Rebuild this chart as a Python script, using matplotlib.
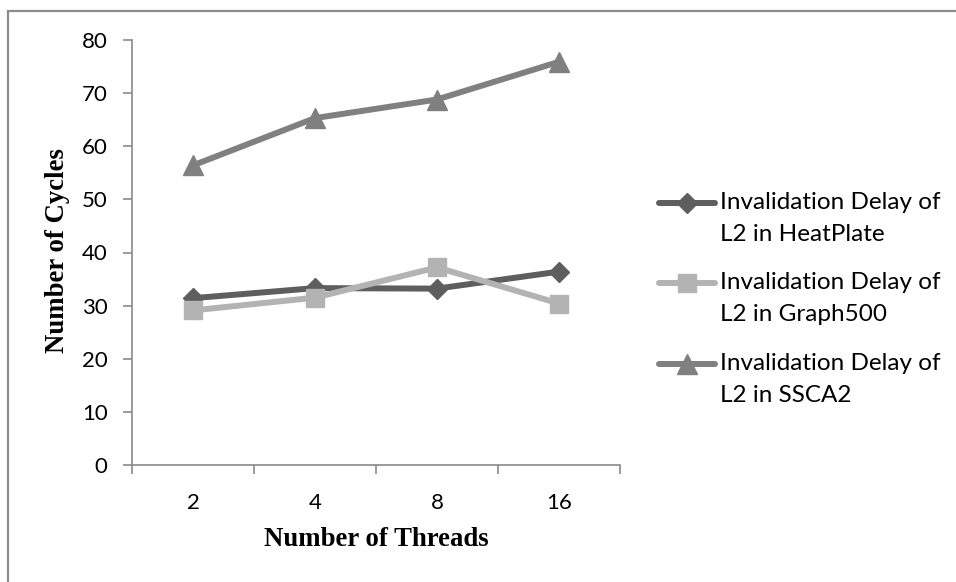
import matplotlib
matplotlib.use("Agg")
import matplotlib.pyplot as plt
from matplotlib.patches import Rectangle
from matplotlib.legend_handler import HandlerLine2D
import numpy as np

# Data
threads = ["2", "4", "8", "16"]
heatplate = [31.4, 33.3, 33.2, 36.4]
graph500 = [29.1, 31.5, 37.2, 30.4]
ssca2 = [56.4, 65.3, 68.8, 75.9]
series_labels = [
    "Invalidation Delay of\nL2 in HeatPlate",
    "Invalidation Delay of\nL2 in Graph500",
    "Invalidation Delay of\nL2 in SSCA2",
]
y_ticks = [0, 10, 20, 30, 40, 50, 60, 70, 80]

W, H = 956, 582
fig = plt.figure(figsize=(W / 100, H / 100), dpi=100)
fig.patch.set_facecolor("white")

sans = "Lato"
serif = "Liberation Serif"
axis_grey = "#8a8a8a"

ax = fig.add_axes([132 / W, 1 - 465 / H, (620 - 132) / W, (465 - 40) / H])
x = np.arange(len(threads))

styles = [
    dict(color="#5e5e5e", marker="D", ms=10.0),
    dict(color="#b3b3b3", marker="s", ms=12.5),
    dict(color="#808080", marker="^", ms=14.0),
]
lines = []
for vals, st, lab in zip([heatplate, graph500, ssca2], styles, series_labels):
    (ln,) = ax.plot(x, vals, color=st["color"], lw=4.3, marker=st["marker"],
                    ms=st["ms"], mfc=st["color"], mec=st["color"], mew=1,
                    solid_joinstyle="round", solid_capstyle="round", label=lab,
                    clip_on=False)
    lines.append(ln)

ax.set_xlim(-0.5, len(threads) - 0.5)
ax.set_ylim(0, 80)
ax.set_yticks(y_ticks)
ax.set_yticklabels([str(v) for v in y_ticks], fontfamily=sans, fontsize=16)

# category boundaries carry the tick marks, labels sit between them
ax.set_xticks(np.arange(-0.5, len(threads), 1.0))
ax.set_xticklabels([])
ax.set_xticks(x, minor=True)
ax.set_xticklabels(threads, minor=True, fontfamily=sans, fontsize=16)
ax.tick_params(axis="x", which="major", direction="out", length=6.5,
               width=1.2, color=axis_grey)
ax.tick_params(axis="x", which="minor", length=0, pad=20)
ax.tick_params(axis="y", direction="out", length=6.5, width=1.2,
               color=axis_grey, pad=11)

for side in ["top", "right"]:
    ax.spines[side].set_visible(False)
for side in ["left", "bottom"]:
    ax.spines[side].set_color(axis_grey)
    ax.spines[side].set_linewidth(1.2)
ax.patch.set_alpha(0)

fig.text(376 / W, 1 - 540 / H, "Number of Threads", ha="center", va="center",
         fontfamily=serif, fontweight="bold", fontsize=19.3)
fig.text(57 / W, 1 - 251 / H, "Number of Cycles", ha="center", va="center",
         rotation=90, fontfamily=serif, fontweight="bold", fontsize=19.3)


class FirstLineHandler(HandlerLine2D):
    """Place the legend key level with the first line of a two-line label."""

    def __init__(self, shift, **kw):
        super().__init__(**kw)
        self.shift = shift

    def create_artists(self, legend, orig_handle, xdescent, ydescent, width,
                       height, fontsize, trans):
        arts = super().create_artists(legend, orig_handle, xdescent, ydescent,
                                      width, height, fontsize, trans)
        for a in arts:
            a.set_ydata(np.asarray(a.get_ydata()) + self.shift)
        return arts


leg_fs = 17.5
leg = fig.legend(lines, series_labels, loc="upper left",
                 bbox_to_anchor=(659 / W, 1 - 192 / H),
                 frameon=False, borderpad=0, borderaxespad=0,
                 handlelength=2.3, handletextpad=0.2, labelspacing=1.12,
                 prop={"family": sans, "size": leg_fs},
                 handler_map={ln: FirstLineHandler(shift=11.2, numpoints=1)
                              for ln in lines})
for t in leg.get_texts():
    t.set_linespacing(1.65)

# outer chart frame
fig.add_artist(Rectangle((8 / W, -0.2), 1.5, 1 - 11 / H + 0.2,
                         transform=fig.transFigure, fill=False,
                         ec="#8c8c8c", lw=1.6))

fig.savefig("out.png", dpi=100)
